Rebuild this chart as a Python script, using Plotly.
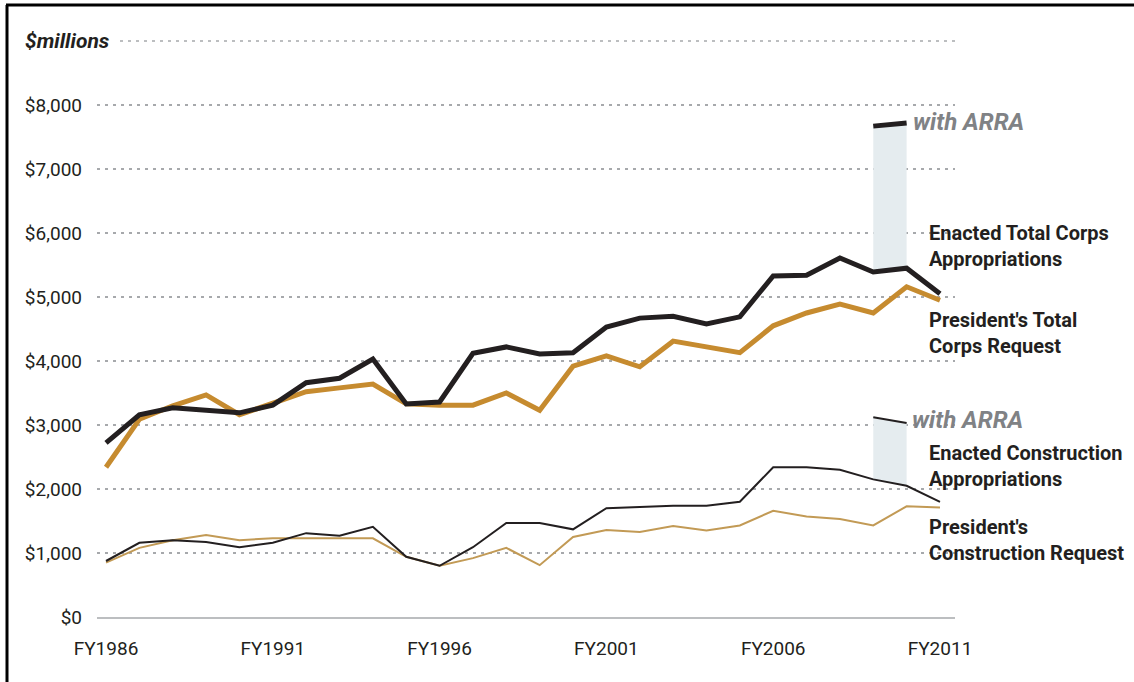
"""Corps appropriations vs. President's requests, FY1986-FY2011."""
import plotly.graph_objects as go

years = list(range(1986, 2012))

enacted_total = [2.72, 3.16, 3.27, 3.23, 3.19, 3.31, 3.66, 3.73, 4.03, 3.33, 3.36,
                 4.12, 4.22, 4.11, 4.13, 4.53, 4.67, 4.70, 4.58, 4.69, 5.33,
                 5.34, 5.61, 5.39, 5.45, 5.05]
president_total = [2.34, 3.09, 3.30, 3.47, 3.16, 3.34, 3.52, 3.58, 3.64, 3.33, 3.31,
                   3.31, 3.50, 3.23, 3.92, 4.08, 3.91, 4.31, 4.22, 4.13, 4.55,
                   4.75, 4.89, 4.75, 5.16, 4.95]
enacted_constr = [0.875, 1.16, 1.20, 1.17, 1.09, 1.16, 1.31, 1.27, 1.41, 0.94, 0.80,
                  1.09, 1.47, 1.47, 1.37, 1.70, 1.72, 1.74, 1.74, 1.80, 2.34,
                  2.34, 2.30, 2.15, 2.05, 1.80]
president_constr = [0.85, 1.08, 1.20, 1.28, 1.20, 1.23, 1.23, 1.23, 1.23, 0.94, 0.80,
                    0.92, 1.08, 0.81, 1.25, 1.36, 1.33, 1.42, 1.35, 1.43, 1.66,
                    1.57, 1.53, 1.43, 1.73, 1.71]

arra_years = [2009, 2010]
arra_total = [7.67, 7.72]
arra_constr = [3.12, 3.03]

# values above are in $billions, chart is in $millions
to_m = lambda vals: [v * 1000 for v in vals]

y_ticks = [0, 1000, 2000, 3000, 4000, 5000, 6000, 7000, 8000]
y_labels = ["$0", "$1,000", "$2,000", "$3,000", "$4,000", "$5,000", "$6,000", "$7,000", "$8,000"]
x_ticks = [1986, 1991, 1996, 2001, 2006, 2011]
x_labels = ["FY" + str(y) for y in x_ticks]

BLACK = "#231f20"
GOLD = "#c68b2f"
GOLD_THIN = "#c29a55"
BAND = "#e5ecef"
GREY = "#808285"
FONT = "Roboto, Liberation Sans, sans-serif"

# plot area in pixels
L, R, T, B = 97, 955, 41, 617


def px(x):
    return (x - L) / (R - L)


def py(y):
    return (B - y) / (B - T)


fig = go.Figure()

# ARRA bands, between the enacted line and the with-ARRA line
for arra, base in [(arra_total, enacted_total), (arra_constr, enacted_constr)]:
    i0 = years.index(arra_years[0])
    lower = base[i0:i0 + len(arra_years)]
    fig.add_trace(go.Scatter(
        x=arra_years + arra_years[::-1], y=to_m(arra + lower[::-1]),
        fill="toself", fillcolor=BAND, line=dict(width=0), mode="lines",
        hoverinfo="skip", showlegend=False,
    ))

fig.add_trace(go.Scatter(x=years, y=to_m(president_constr), mode="lines",
                         line=dict(color=GOLD_THIN, width=2), showlegend=False))
fig.add_trace(go.Scatter(x=years, y=to_m(enacted_constr), mode="lines",
                         line=dict(color=BLACK, width=2), showlegend=False))
fig.add_trace(go.Scatter(x=years, y=to_m(president_total), mode="lines",
                         line=dict(color=GOLD, width=5), showlegend=False))
fig.add_trace(go.Scatter(x=years, y=to_m(enacted_total), mode="lines",
                         line=dict(color=BLACK, width=5), showlegend=False))
fig.add_trace(go.Scatter(x=arra_years, y=to_m(arra_total), mode="lines",
                         line=dict(color=BLACK, width=5), showlegend=False))
fig.add_trace(go.Scatter(x=arra_years, y=to_m(arra_constr), mode="lines",
                         line=dict(color=BLACK, width=2), showlegend=False))

fig.update_xaxes(
    range=[1985.73, 2011.45], tickvals=x_ticks, ticktext=x_labels,
    showgrid=False, zeroline=False, showline=True, linecolor="#bcbec0", linewidth=2,
    ticks="", ticklabelstandoff=13, tickfont=dict(family=FONT, size=19, color=BLACK),
)
fig.update_yaxes(
    range=[0, 9000], tickvals=y_ticks, ticktext=y_labels,
    showgrid=True, gridcolor="#a7a9ac", gridwidth=1.5, griddash="3px,5px",
    zeroline=False, ticks="", ticklabelstandoff=14,
    tickfont=dict(family=FONT, size=19, color=BLACK),
)

shapes = [
    # top gridline, labelled $millions
    dict(type="line", xref="paper", yref="paper", x0=px(120), x1=1, y0=1, y1=1,
         line=dict(color="#a7a9ac", width=1.5, dash="3px,5px")),
    # frame: left and top edges
    dict(type="line", xref="paper", yref="paper", x0=px(7), x1=px(7), y0=py(5), y1=py(690),
         line=dict(color="black", width=3)),
    dict(type="line", xref="paper", yref="paper", x0=px(6), x1=px(1140), y0=py(5), y1=py(5),
         line=dict(color="black", width=3)),
]

label_font = dict(color=BLACK, size=20, family=FONT)
arra_font = dict(color=GREY, size=24, family=FONT)
annotations = [
    dict(text="<b><i>$millions</i></b>", x=px(23), y=py(41), xanchor="left",
         font=dict(color=BLACK, size=21, family=FONT)),
    dict(text="<b><i>with ARRA</i></b>", x=px(911), y=py(122), xanchor="left", font=arra_font),
    dict(text="<b><i>with ARRA</i></b>", x=px(910), y=py(420), xanchor="left", font=arra_font),
    dict(text="<b>Enacted Total Corps<br>Appropriations</b>", x=px(927), y=py(246), xanchor="left"),
    dict(text="<b>President's Total<br>Corps Request</b>", x=px(927), y=py(333), xanchor="left"),
    dict(text="<b>Enacted Construction<br>Appropriations</b>", x=px(927), y=py(466), xanchor="left"),
    dict(text="<b>President's<br>Construction Request</b>", x=px(927), y=py(540), xanchor="left"),
]
for a in annotations:
    a.update(xref="paper", yref="paper", yanchor="middle", showarrow=False, align="left")
    a.setdefault("font", label_font)

fig.update_layout(
    width=1134, height=682,
    margin=dict(l=L, r=1134 - R, t=T, b=682 - B),
    paper_bgcolor="white", plot_bgcolor="white",
    font=dict(family=FONT, color=BLACK),
    shapes=shapes, annotations=annotations,
)

# drop the page's default body margin so the figure sits at the top-left corner
fig.write_html(
    "out.html",
    config={"displayModeBar": False},
    post_script="document.body.style.margin='0';document.body.style.overflow='hidden';",
)
